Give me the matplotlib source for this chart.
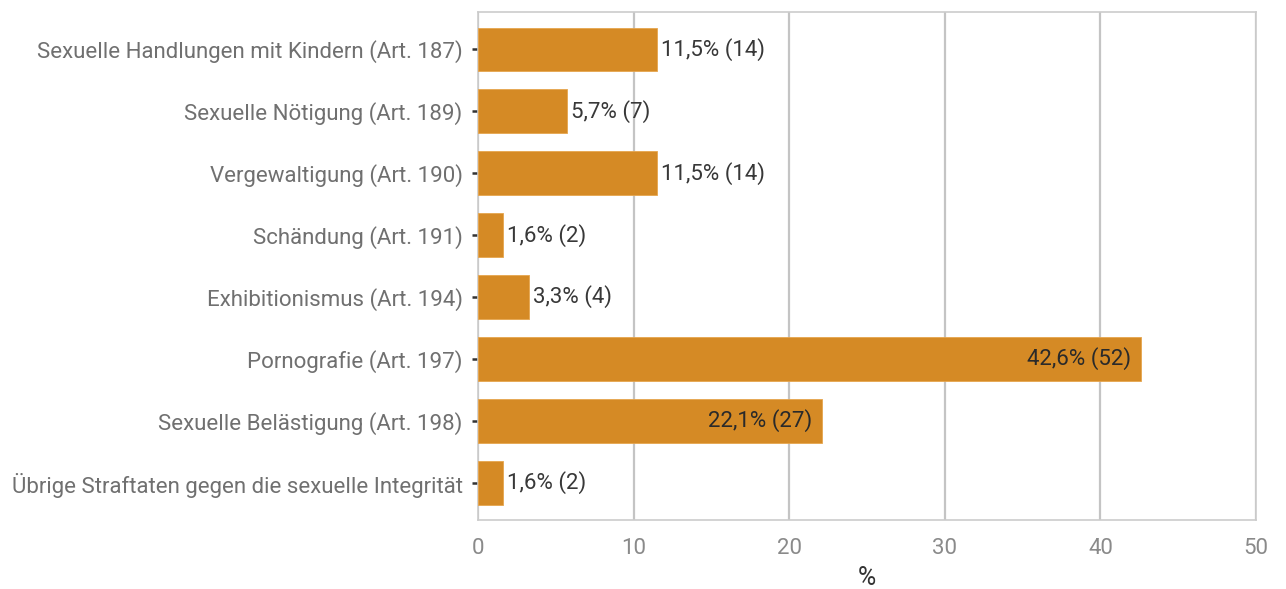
import matplotlib
matplotlib.use("Agg")
import matplotlib.pyplot as plt

# Daten
categories = [
    "Sexuelle Handlungen mit Kindern (Art. 187)",
    "Sexuelle Nötigung (Art. 189)",
    "Vergewaltigung (Art. 190)",
    "Schändung (Art. 191)",
    "Exhibitionismus (Art. 194)",
    "Pornografie (Art. 197)",
    "Sexuelle Belästigung (Art. 198)",
    "Übrige Straftaten gegen die sexuelle Integrität",
]
percent = [11.5, 5.7, 11.5, 1.6, 3.3, 42.6, 22.1, 1.6]
counts = [14, 7, 14, 2, 4, 52, 27, 2]
x_ticks = [0, 10, 20, 30, 40, 50]

plt.rcParams['font.family'] = ['Roboto', 'DejaVu Sans']

fig = plt.figure(figsize=(12.86, 5.89), dpi=100)
ax = fig.add_axes([0.3717, 0.1171, 0.605, 0.8625])

n = len(categories)
ypos = list(range(n))[::-1]
bar_color = '#D58A25'
ax.barh(ypos, percent, height=0.7, color=bar_color, edgecolor='#E6A54D',
        linewidth=0.6, zorder=3)

# Beschriftung der Balken
for y, p, c in zip(ypos, percent, counts):
    txt = f"{p:.1f}".replace('.', ',') + f"% ({c})"
    if p > 20:
        ax.text(p - 0.6, y, txt, ha='right', va='center', fontsize=16,
                color='#2a2a2a', zorder=4)
    else:
        ax.text(p + 0.25, y, txt, ha='left', va='center', fontsize=16,
                color='#383838', zorder=4)

ax.set_xlim(0, 50)
ax.set_ylim(-0.6, n - 1 + 0.6)
ax.set_yticks(ypos)
ax.set_yticklabels(categories)
ax.set_xticks(x_ticks)
ax.set_xticklabels([str(t) for t in x_ticks])

ax.grid(axis='x', color='#C4C4C4', linewidth=1.6, zorder=0)
ax.grid(axis='y', visible=False)
for s in ax.spines.values():
    s.set_color('#CCCCCC')
    s.set_linewidth(1.2)

ax.tick_params(axis='y', length=4, width=1.8, color='#333333',
               labelsize=16, labelcolor='#707070', pad=7)
ax.tick_params(axis='x', length=0, labelsize=16, labelcolor='#8a8a8a', pad=13)
ax.set_xlabel('%', fontsize=18, color='#333333', labelpad=5)

fig.savefig('out.png', dpi=100, facecolor='white')
